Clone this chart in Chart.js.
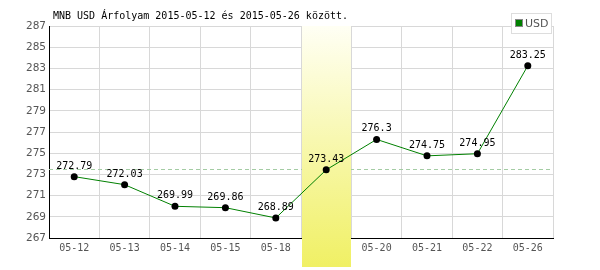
<!DOCTYPE html>
<html>
<head>
<meta charset="utf-8">
<script src="https://cdn.jsdelivr.net/npm/chart.js@4/dist/chart.umd.min.js"></script>
<style>
  html, body { margin: 0; padding: 0; background: #fff; }
  #wrap { width: 600px; height: 270px; position: relative; }
</style>
</head>
<body>
<div id="wrap"><canvas id="rateChart" width="600" height="270"></canvas></div>
<script>
const titleText = "MNB USD Árfolyam 2015-05-12 és 2015-05-26 között.";
const seriesName = "USD";
const dates = ["05-12", "05-13", "05-14", "05-15", "05-18", "05-19", "05-20", "05-21", "05-22", "05-26"];
const rates = [272.79, 272.03, 269.99, 269.86, 268.89, 273.43, 276.3, 274.75, 274.95, 283.25];
const rateLabels = ["272.79", "272.03", "269.99", "269.86", "268.89", "273.43", "276.3", "274.75", "274.95", "283.25"];
const avgRate = 273.47;
const highlightDate = "05-19";
const yMin = 267, yMax = 287, yStep = 2;

const mono = "'DejaVu Sans Mono', monospace";

// dashed average line + highlighted day band, under the data line
const backdrop = {
  id: "backdrop",
  beforeDatasetsDraw(chart) {
    const { ctx, chartArea: a, scales: { x, y } } = chart;
    ctx.save();
    const ya = Math.round(y.getPixelForValue(avgRate)) + 0.5;
    ctx.strokeStyle = "#a4cca4";
    ctx.lineWidth = 1;
    ctx.setLineDash([4, 3]);
    ctx.beginPath();
    ctx.moveTo(a.left, ya);
    ctx.lineTo(a.right, ya);
    ctx.stroke();
    ctx.setLineDash([]);

    const i = dates.indexOf(highlightDate);
    const half = (x.getPixelForValue(1) - x.getPixelForValue(0)) / 2;
    const cx = x.getPixelForValue(i);
    const left = Math.round(cx - half) + 1, right = Math.round(cx + half);
    const bottom = chart.height - 3;
    const grad = ctx.createLinearGradient(0, a.top, 0, bottom);
    grad.addColorStop(0, "#fffff4");
    grad.addColorStop(1, "#f0f064");
    ctx.fillStyle = grad;
    ctx.fillRect(left, a.top, right - left, bottom - a.top);
    ctx.restore();
  }
};

// title, value labels and legend box
const overlay = {
  id: "overlay",
  afterDraw(chart) {
    const { ctx, scales: { x, y } } = chart;
    ctx.save();
    ctx.font = "10px " + mono;
    ctx.fillStyle = "#000";
    ctx.textAlign = "left";
    ctx.textBaseline = "middle";
    ctx.fillText(titleText, 53, 16);

    ctx.textAlign = "center";
    ctx.textBaseline = "alphabetic";
    rates.forEach((v, i) => {
      ctx.fillText(rateLabels[i], x.getPixelForValue(i), y.getPixelForValue(v) - 8);
    });

    ctx.fillStyle = "#fff";
    ctx.fillRect(511, 13, 41, 20);
    ctx.strokeStyle = "#dddddd";
    ctx.strokeRect(511.5, 13.5, 40, 20);
    ctx.fillStyle = "#008000";
    ctx.fillRect(516, 20, 6, 6);
    ctx.strokeStyle = "#888";
    ctx.strokeRect(515.5, 19.5, 7, 7);
    ctx.fillStyle = "#555";
    ctx.font = "11px 'DejaVu Sans', sans-serif";
    ctx.textAlign = "left";
    ctx.textBaseline = "middle";
    ctx.fillText(seriesName, 525, 24);
    ctx.restore();
  }
};

new Chart(document.getElementById("rateChart"), {
  type: "line",
  data: {
    labels: dates,
    datasets: [{
      label: seriesName,
      data: rates,
      borderColor: "#008000",
      borderWidth: 1,
      pointRadius: 3.5,
      pointBackgroundColor: "#000",
      pointBorderColor: "#000",
      pointBorderWidth: 0,
      tension: 0
    }]
  },
  options: {
    responsive: false,
    animation: false,
    events: [],
    layout: { padding: { top: 26, right: 47, left: 0, bottom: 0 } },
    plugins: { legend: { display: false }, tooltip: { enabled: false } },
    scales: {
      x: {
        z: 1,
        offset: true,
        grid: { offset: true, color: "#d8d8d8", drawTicks: false },
        border: { color: "#000", width: 1 },
        ticks: { color: "#555", font: { family: mono, size: 10 }, padding: 4, maxRotation: 0, autoSkip: false },
        afterFit(s) { s.height = 32; }
      },
      y: {
        min: yMin,
        max: yMax,
        grid: { color: "#d8d8d8", drawTicks: false },
        border: { color: "#000", width: 1 },
        ticks: { stepSize: yStep, color: "#555", font: { family: "'DejaVu Sans', sans-serif", size: 10.5 }, padding: 3 },
        afterFit(s) { s.width = 49; }
      }
    }
  },
  plugins: [backdrop, overlay]
});
</script>
</body>
</html>
